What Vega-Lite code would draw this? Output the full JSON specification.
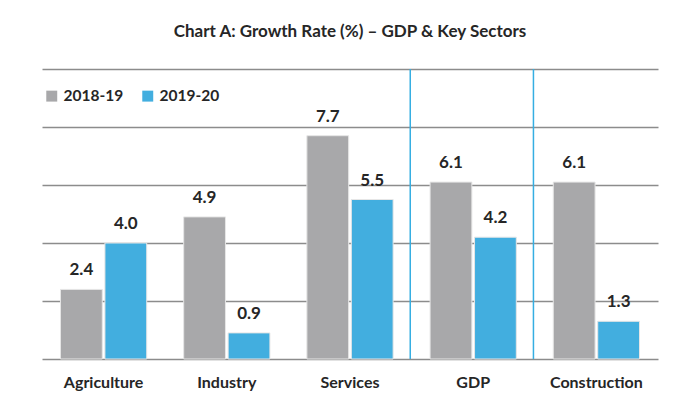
{
  "$schema": "https://vega.github.io/schema/vega-lite/v6.json",
  "width": 616,
  "height": 290,
  "autosize": "none",
  "padding": {"left": 42, "top": 69, "right": 18, "bottom": 42},
  "background": "white",
  "title": {
    "text": "Chart A: Growth Rate (%) – GDP & Key Sectors",
    "font": "Lato",
    "fontSize": 17,
    "fontWeight": "bold",
    "color": "#262626",
    "anchor": "middle",
    "offset": 27
  },
  "data": {
    "values": [
      {"sector": "Agriculture", "year": "2018-19", "value": 2.4},
      {"sector": "Agriculture", "year": "2019-20", "value": 4.0},
      {"sector": "Industry", "year": "2018-19", "value": 4.9},
      {"sector": "Industry", "year": "2019-20", "value": 0.9},
      {"sector": "Services", "year": "2018-19", "value": 7.7},
      {"sector": "Services", "year": "2019-20", "value": 5.5},
      {"sector": "GDP", "year": "2018-19", "value": 6.1},
      {"sector": "GDP", "year": "2019-20", "value": 4.2},
      {"sector": "Construction", "year": "2018-19", "value": 6.1},
      {"sector": "Construction", "year": "2019-20", "value": 1.3}
    ]
  },
  "encoding": {
    "x": {
      "field": "sector",
      "type": "nominal",
      "sort": ["Agriculture", "Industry", "Services", "GDP", "Construction"],
      "scale": {"paddingInner": 0.3, "paddingOuter": 0.15},
      "axis": {
        "title": null,
        "labelAngle": 0,
        "labelFont": "Lato",
        "labelFontSize": 16,
        "labelFontWeight": "bold",
        "labelColor": "#262626",
        "labelPadding": 15,
        "ticks": false,
        "domain": false
      }
    }
  },
  "layer": [
    {
      "mark": {"type": "bar", "stroke": "#e6e6e6", "strokeWidth": 1},
      "encoding": {
        "xOffset": {"field": "year", "type": "nominal", "scale": {"paddingInner": 0.06}},
        "y": {
          "field": "value",
          "type": "quantitative",
          "scale": {"domain": [0, 10]},
          "axis": {
            "title": null,
            "labels": false,
            "ticks": false,
            "domain": false,
            "values": [0, 2, 4, 6, 8, 10],
            "gridColor": "#8c8c8c",
            "gridWidth": 1.6
          }
        },
        "color": {
          "field": "year",
          "type": "nominal",
          "scale": {"domain": ["2018-19", "2019-20"], "range": ["#a8a8aa", "#42aedf"]},
          "legend": {
            "title": null,
            "orient": "none",
            "legendX": 2,
            "legendY": 19,
            "direction": "horizontal",
            "symbolType": "square",
            "symbolSize": 120,
            "symbolStrokeWidth": 0,
            "labelFont": "Lato",
            "labelFontSize": 15.5,
            "labelFontWeight": "bold",
            "labelColor": "#262626",
            "columnPadding": 16,
            "labelOffset": 4
          }
        }
      }
    },
    {
      "mark": {"type": "text", "dy": -10, "font": "Lato", "fontSize": 17, "fontWeight": "bold", "color": "#262626", "baseline": "bottom"},
      "encoding": {
        "xOffset": {"field": "year", "type": "nominal", "scale": {"paddingInner": 0.06}},
        "y": {"field": "value", "type": "quantitative"},
        "text": {"field": "value", "type": "quantitative", "format": ".1f"}
      }
    },
    {
      "data": {"values": [{"sector": "GDP"}, {"sector": "Construction"}]},
      "mark": {"type": "rule", "color": "#35aee2", "strokeWidth": 1.5},
      "encoding": {
        "x": {"field": "sector", "type": "nominal", "bandPosition": -0.23}
      }
    }
  ],
  "config": {
    "view": {"stroke": null}
  }
}
